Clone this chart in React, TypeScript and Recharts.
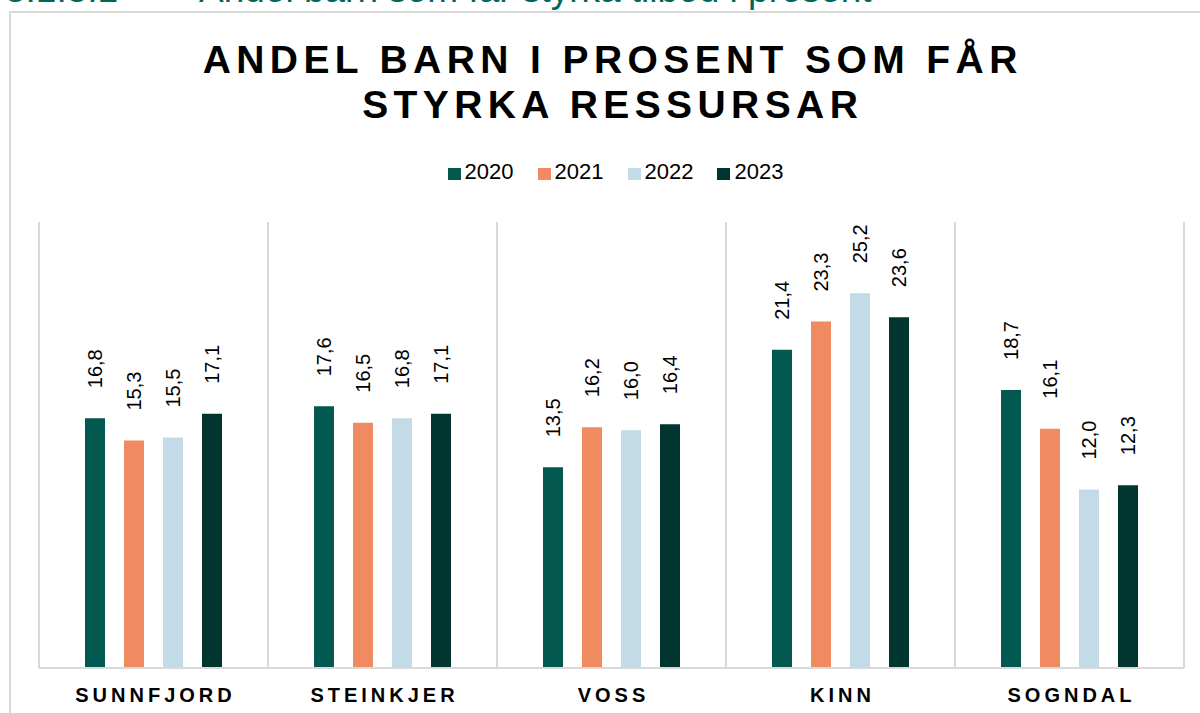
import React from 'react'
import { BarChart, Bar, XAxis, YAxis, CartesianGrid, LabelList } from 'recharts'

const kommunar = ['SUNNFJORD', 'STEINKJER', 'VOSS', 'KINN', 'SOGNDAL']
const aar = ['2020', '2021', '2022', '2023']
const verdi2020 = [16.8, 17.6, 13.5, 21.4, 18.7]
const verdi2021 = [15.3, 16.5, 16.2, 23.3, 16.1]
const verdi2022 = [15.5, 16.8, 16.0, 25.2, 12.0]
const verdi2023 = [17.1, 17.1, 16.4, 23.6, 12.3]
const fargar = ['#03594f', '#f08a61', '#c2dbe6', '#00362f']

const data = kommunar.map((name, i) => ({
  name,
  '2020': verdi2020[i],
  '2021': verdi2021[i],
  '2022': verdi2022[i],
  '2023': verdi2023[i],
}))

const FONT = '"Liberation Sans", Arial, sans-serif'

function VerdiLabel(props: any) {
  const { x, y, width, value } = props
  const cx = x + width / 2
  const ty = y - 30
  return (
    <text
      x={cx}
      y={ty}
      transform={`rotate(-90 ${cx} ${ty})`}
      textAnchor="start"
      dominantBaseline="central"
      fontSize={20}
      fontFamily={FONT}
      fill="#000"
    >
      {Number(value).toFixed(1).replace('.', ',')}
    </text>
  )
}

function KommuneTick(props: any) {
  const { x, y, payload } = props
  return (
    <text
      x={x + 2}
      y={y + 26}
      textAnchor="middle"
      fontSize={20}
      fontWeight="bold"
      letterSpacing={4}
      fontFamily={FONT}
      fill="#000"
    >
      {payload.value}
    </text>
  )
}

function Forklaring() {
  return (
    <div style={{ display: 'flex', justifyContent: 'center', gap: 24, paddingLeft: 31, fontFamily: FONT }}>
      {aar.map((a, i) => (
        <div key={a} style={{ display: 'flex', alignItems: 'center', gap: 4 }}>
          <span style={{ display: 'inline-block', width: 13, height: 12, background: fargar[i], marginTop: 4 }} />
          <span style={{ fontSize: 22, color: '#000', lineHeight: '24px' }}>{a}</span>
        </div>
      ))}
    </div>
  )
}

export default function App() {
  return (
    <div style={{ position: 'absolute', left: 0, top: 0, width: 1200, height: 713, overflow: 'hidden', background: '#fff' }}>
      <div style={{ position: 'absolute', left: 5, top: -29, fontFamily: FONT, fontSize: 37, lineHeight: '37px', color: '#00665b', whiteSpace: 'nowrap' }}>
        3.1.3.1
      </div>
      <div style={{ position: 'absolute', left: 199, top: -29, fontFamily: FONT, fontSize: 37, lineHeight: '37px', color: '#00665b', whiteSpace: 'nowrap' }}>
        Andel barn som får styrka tilbod i prosent
      </div>
      <div style={{ position: 'absolute', left: 9, top: 11, width: 1300, height: 800, border: '2px solid #d9d9d9' }} />
      <div
        style={{
          position: 'absolute',
          left: 10,
          top: 37,
          width: 1200,
          paddingLeft: 5.4,
          boxSizing: 'border-box',
          textAlign: 'center',
          fontFamily: FONT,
          fontWeight: 'bold',
          fontSize: 39,
          lineHeight: '45px',
          letterSpacing: 5.4,
          color: '#000',
        }}
      >
        ANDEL BARN I PROSENT SOM FÅR
        <br />
        STYRKA RESSURSAR
      </div>
      <div style={{ position: 'absolute', left: 0, top: 160, width: 1200 }}>
        <Forklaring />
      </div>
      <div style={{ position: 'absolute', left: 0, top: 0 }}>
        <BarChart
          width={1200}
          height={713}
          data={data}
          margin={{ top: 222, right: 16, bottom: 0, left: 39 }}
          barSize={20}
          barGap={19}
        >
          <CartesianGrid
            horizontal={false}
            stroke="#d9d9d9"
            strokeWidth={2}
            verticalCoordinatesGenerator={({ offset }: any) =>
              kommunar.map((_, i) => offset.left + (i * offset.width) / kommunar.length).concat(offset.left + offset.width)
            }
          />
          <XAxis
            dataKey="name"
            height={45}
            axisLine={{ stroke: '#d9d9d9', strokeWidth: 2 }}
            tickLine={false}
            tick={<KommuneTick />}
            interval={0}
          />
          <YAxis hide domain={[0, 30]} />
          {aar.map((a, i) => (
            <Bar key={a} dataKey={a} fill={fargar[i]} isAnimationActive={false}>
              <LabelList dataKey={a} content={<VerdiLabel />} />
            </Bar>
          ))}
        </BarChart>
      </div>
    </div>
  )
}
